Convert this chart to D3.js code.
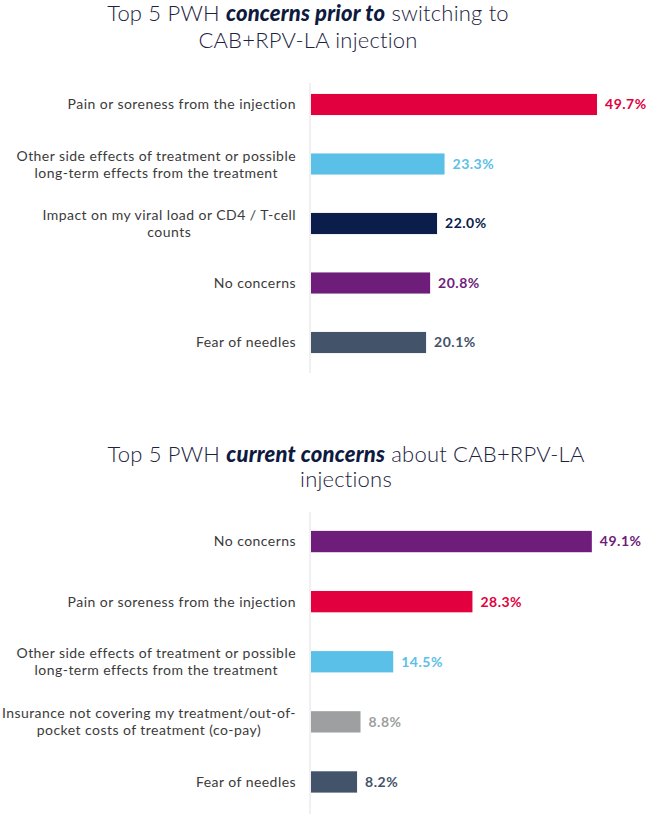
<!DOCTYPE html>
<html lang="en">
<head>
    <meta charset="UTF-8" />
    <title>Top 5 PWH concerns</title>
    <script src="https://d3js.org/d3.v7.min.js"></script>
    <style>
        body {
            margin: 0;
            background: #fff;
            font-family: Lato, "Open Sans", sans-serif;
        }
        .label {
            font-size: 14px;
            letter-spacing: 0.45px;
            fill: #3b3b3b;
        }
        .value {
            font-size: 14px;
            letter-spacing: 0.5px;
            font-weight: 700;
        }
        .title {
            font-size: 22px;
            font-weight: 300;
            letter-spacing: 0.2px;
            fill: #1c2340;
        }
    </style>
</head>
<body>
    <svg id="chart" width="647" height="816"></svg>

    <script>
        // Chart 1: concerns prior to switching
        const priorCategories = [
            "Pain or soreness from the injection",
            "Other side effects of treatment or possible|long-term effects from the treatment",
            "Impact on my viral load or CD4 / T-cell|counts",
            "No concerns",
            "Fear of needles"
        ];
        const priorValues = [49.7, 23.3, 22.0, 20.8, 20.1];
        const priorColors = ["#e2003e", "#5bc0e7", "#0b1e4b", "#6f1d7b", "#435369"];

        // Chart 2: current concerns
        const currentCategories = [
            "No concerns",
            "Pain or soreness from the injection",
            "Other side effects of treatment or possible|long-term effects from the treatment",
            "Insurance not covering my treatment/out-of-|pocket costs of treatment (co-pay)",
            "Fear of needles"
        ];
        const currentValues = [49.1, 28.3, 14.5, 8.8, 8.2];
        const currentColors = ["#6f1d7b", "#e2003e", "#5bc0e7", "#9d9fa1", "#435369"];

        const svg = d3.select("#chart");

        function drawChart(opts) {
            const g = svg.append("g");

            const x = d3.scaleLinear()
                .domain([0, 50])
                .range([opts.x0, opts.x0 + 50 * opts.pxPer]);

            const y = d3.scaleBand()
                .domain(opts.categories)
                .range(opts.yRange)
                .paddingInner(0.645)
                .paddingOuter(0.3225);

            // title, two lines, bold italic part in the middle
            opts.title.forEach((line, i) => {
                const t = g.append("text")
                    .attr("class", "title")
                    .attr("x", opts.titleX)
                    .attr("y", opts.titleY[i])
                    .attr("text-anchor", "middle");
                line.forEach(part => {
                    const s = t.append("tspan").text(part.t);
                    if (part.b) s.attr("font-weight", 900).attr("font-style", "italic").attr("fill", "#0e1a3e");
                });
            });

            // vertical baseline
            g.append("line")
                .attr("x1", x(0)).attr("x2", x(0))
                .attr("y1", opts.axisY[0]).attr("y2", opts.axisY[1])
                .attr("stroke", "#e2e2e2")
                .attr("stroke-width", 1);

            const data = opts.categories.map((c, i) => ({ c, v: opts.values[i], col: opts.colors[i] }));

            g.selectAll("rect.bar")
                .data(data)
                .enter().append("rect")
                .attr("class", "bar")
                .attr("x", x(0) + 1)
                .attr("y", d => y(d.c))
                .attr("width", d => x(d.v) - x(0) - 1)
                .attr("height", y.bandwidth())
                .attr("fill", d => d.col);

            g.selectAll("text.value")
                .data(data)
                .enter().append("text")
                .attr("class", "value")
                .attr("x", d => x(d.v) + 8)
                .attr("y", d => y(d.c) + y.bandwidth() / 2)
                .attr("dy", "0.35em")
                .attr("fill", d => d.col)
                .attr("font-weight", d => d.col === "#9d9fa1" ? 400 : 700)
                .text(d => d.v.toFixed(1) + "%");

            // category labels, '|' splits lines; right-aligned block, lines centred within it
            const labelRight = x(0) - 14;
            const labels = g.selectAll("text.label")
                .data(data)
                .enter().append("text")
                .attr("class", "label")
                .attr("text-anchor", "end")
                .attr("x", labelRight)
                .attr("y", d => y(d.c) + y.bandwidth() / 2);

            labels.each(function (d) {
                const lines = d.c.split("|");
                const el = d3.select(this);
                lines.forEach((ln, i) => {
                    el.append("tspan")
                        .attr("x", labelRight)
                        .attr("dy", i === 0 ? (0.35 - (lines.length - 1) * 0.6) + "em" : "17px")
                        .text(ln);
                });
                if (lines.length > 1) {
                    const spans = el.selectAll("tspan").nodes();
                    const w0 = spans[0].getComputedTextLength();
                    d3.select(spans[1])
                        .attr("text-anchor", "middle")
                        .attr("x", labelRight - w0 / 2);
                }
            });
        }

        drawChart({
            categories: priorCategories,
            values: priorValues,
            colors: priorColors,
            x0: 310,
            pxPer: 5.775,
            yRange: [74.75, 372.25],
            axisY: [83, 373],
            titleX: 308,
            titleY: [21, 48],
            title: [
                [{ t: "Top 5 PWH " }, { t: "concerns prior to", b: true }, { t: " switching to" }],
                [{ t: "CAB+RPV-LA injection" }]
            ]
        });

        drawChart({
            categories: currentCategories,
            values: currentValues,
            colors: currentColors,
            x0: 310,
            pxPer: 5.74,
            yRange: [511.5, 812],
            axisY: [512, 814],
            titleX: 346,
            titleY: [462, 487],
            title: [
                [{ t: "Top 5 PWH " }, { t: "current concerns", b: true }, { t: " about CAB+RPV-LA" }],
                [{ t: "injections" }]
            ]
        });
    </script>
</body>
</html>
